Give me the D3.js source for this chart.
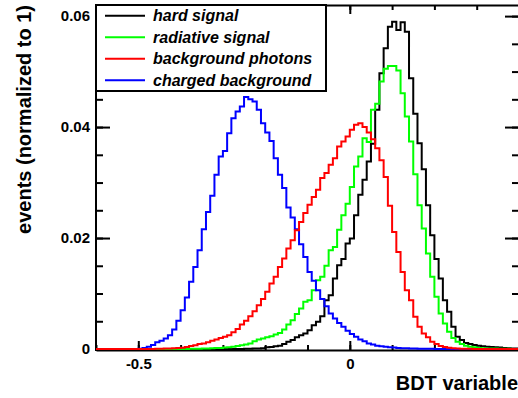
<!DOCTYPE html>
<html>
<head>
<meta charset="utf-8">
<script src="https://cdn.jsdelivr.net/npm/d3@7"></script>
<style>
  html, body { margin: 0; padding: 0; background: #ffffff; }
  svg { display: block; font-family: "Liberation Sans", Arial, Helvetica, sans-serif; font-weight: bold; }
</style>
</head>
<body>
<svg id="chart" width="518" height="398"></svg>
<script>
// Histogram binning: 100 equal bins on [-0.6, 0.4]
const binLow = -0.6;
const binHigh = 0.4;
const nBins = 100;

// Normalized bin contents, one entry per bin (left to right)
const hardSignal = [
  0, 0, 0, 0, 0, 0, 0, 0, 0, 0,
  0, 0, 0, 0, 0, 0, 0, 0, 0, 0,
  0, 0, 0, 0, 0, 0, 0, 0, 0, 0,
  0, 0, 0, 0, 0.00002, 0.00004, 0.00005, 0.00008, 0.0001, 0.00015,
  0.0003, 0.00036, 0.00048, 0.0006, 0.0009, 0.0013, 0.0016, 0.0021, 0.0025, 0.0028,
  0.0034, 0.0043, 0.0049, 0.0059, 0.0088, 0.0097, 0.0127, 0.0151, 0.0162, 0.0190,
  0.0199, 0.0241, 0.0278, 0.0305, 0.0338, 0.0370, 0.0431, 0.0497, 0.0542, 0.0581,
  0.0590, 0.0575, 0.0589, 0.0572, 0.0488, 0.0424, 0.0371, 0.0324, 0.0259, 0.0205,
  0.0162, 0.0127, 0.0088, 0.0067, 0.0040, 0.0022, 0.0016, 0.0011, 0.0009, 0.0007,
  0.0006, 0.0005, 0.0004, 0.00036, 0.0003, 0.00025, 0.0002, 0.00015, 0.0001, 0.0001
];

const radiativeSignal = [
  0, 0, 0, 0, 0, 0, 0, 0, 0, 0,
  0, 0, 0, 0, 0, 0, 0, 0, 0, 0,
  0.00001, 0.00002, 0.00003, 0.00004, 0.00005, 0.00007, 0.0001, 0.00013, 0.00017, 0.0002,
  0.00025, 0.0003, 0.0004, 0.00054, 0.00066, 0.0008, 0.0010, 0.0014, 0.0017, 0.0019,
  0.0021, 0.0023, 0.0026, 0.0029, 0.0035, 0.0044, 0.0052, 0.0063, 0.0073, 0.0085,
  0.0088, 0.0106, 0.0124, 0.0130, 0.0150, 0.0178, 0.0184, 0.0215, 0.0241, 0.0262,
  0.0292, 0.0329, 0.0347, 0.0380, 0.0373, 0.0431, 0.0442, 0.0482, 0.0505, 0.0510,
  0.0510, 0.0502, 0.0461, 0.0419, 0.0374, 0.0315, 0.0259, 0.0217, 0.0172, 0.0130,
  0.0094, 0.0064, 0.0046, 0.0031, 0.0020, 0.0013, 0.0009, 0.0006, 0.0004, 0.0003,
  0.0002, 0.00015, 0.0001, 0.0001, 0.00007, 0.00005, 0.00004, 0.00003, 0.00002, 0.00001
];

const backgroundPhotons = [
  0, 0, 0, 0, 0, 0, 0, 0, 0, 0,
  0, 0, 0.00001, 0.00002, 0.00003, 0.00005, 0.00007, 0.0001, 0.00013, 0.00018,
  0.00024, 0.00036, 0.00054, 0.00066, 0.0009, 0.0010, 0.0012, 0.0015, 0.0017, 0.0020,
  0.0022, 0.0025, 0.0030, 0.0036, 0.0044, 0.0051, 0.0059, 0.0068, 0.0079, 0.0090,
  0.0103, 0.0118, 0.0130, 0.0148, 0.0163, 0.0181, 0.0196, 0.0214, 0.0229, 0.0245,
  0.0260, 0.0274, 0.0287, 0.0308, 0.0317, 0.0332, 0.0344, 0.0365, 0.0374, 0.0383,
  0.0395, 0.0404, 0.0407, 0.0400, 0.0390, 0.0378, 0.0362, 0.0340, 0.0310, 0.0258,
  0.0211, 0.0175, 0.0139, 0.0106, 0.0088, 0.0058, 0.0040, 0.0028, 0.0021, 0.0013,
  0.0009, 0.00054, 0.00036, 0.00024, 0.00015, 0.0001, 0.00006, 0.00004, 0.00003, 0.00002,
  0.00001, 0.00001, 0, 0, 0, 0, 0, 0, 0, 0
];

const chargedBackground = [
  0, 0, 0, 0, 0, 0, 0, 0, 0, 0,
  0.00005, 0.0002, 0.0004, 0.0007, 0.0012, 0.0015, 0.0019, 0.0025, 0.0035, 0.0051,
  0.0070, 0.0093, 0.0121, 0.0148, 0.0178, 0.0216, 0.0247, 0.0276, 0.0314, 0.0347,
  0.0357, 0.0389, 0.0416, 0.0428, 0.0437, 0.0454, 0.0450, 0.0446, 0.0431, 0.0407,
  0.0390, 0.0375, 0.0344, 0.0314, 0.0290, 0.0255, 0.0237, 0.0216, 0.0189, 0.0166,
  0.0139, 0.0123, 0.0106, 0.0090, 0.0077, 0.0064, 0.0055, 0.0047, 0.0040, 0.0033,
  0.0027, 0.0022, 0.0017, 0.0014, 0.0010, 0.0008, 0.0006, 0.0005, 0.0004, 0.0003,
  0.00025, 0.0002, 0.00015, 0.00012, 0.0001, 0.00008, 0.00006, 0.00005, 0.00004, 0.00003,
  0.00002, 0.00001, 0, 0, 0, 0, 0, 0, 0, 0,
  0, 0, 0, 0, 0, 0, 0, 0, 0, 0
];

const seriesNames = ["hard signal", "radiative signal", "background photons", "charged background"];
const seriesColors = ["#000000", "#00ff00", "#ff0000", "#0000ff"];

// Axis ticks
const xMajorTicks = [-0.5, 0];
const xMinorTicks = [-0.6, -0.5, -0.4, -0.3, -0.2, -0.1, 0, 0.1, 0.2, 0.3, 0.4];
const yMajorTicks = [0, 0.02, 0.04, 0.06];
const yMinorTicks = [0, 0.005, 0.01, 0.015, 0.02, 0.025, 0.03, 0.035, 0.04, 0.045, 0.05, 0.055, 0.06];
const yMax = 0.062;

const xTitle = "BDT variable";
const yTitle = "events (normalized to 1)";

// Frame geometry
const frame = { left: 96, right: 519, top: 5, bottom: 349 };

const svg = d3.select("#chart");

const x = d3.scaleLinear().domain([binLow, binHigh]).range([frame.left, frame.right]);
const y = d3.scaleLinear().domain([0, yMax]).range([frame.bottom, frame.top]);

const fmtX = d => (d === 0 ? "0" : String(d));
const fmtY = d => (d === 0 ? "0" : d.toFixed(2));

// Ticks inward, black 2px; optionally keep the axis line
function styleAxis(g, keepDomain, fontSize) {
  g.attr("font-family", null).attr("font-size", fontSize || null);
  g.selectAll(".tick line").attr("stroke", "#000").attr("stroke-width", 2);
  if (keepDomain) {
    g.select(".domain").attr("stroke", "#000").attr("stroke-width", 2);
  } else {
    g.select(".domain").remove();
  }
  g.selectAll("text").attr("fill", "#000");
}

// Bottom axis
const bottomY = frame.bottom + 1;
svg.append("g")
  .attr("transform", `translate(0,${bottomY})`)
  .call(d3.axisBottom(x).tickValues(xMinorTicks).tickSizeInner(-5).tickSizeOuter(0).tickFormat(""))
  .call(g => styleAxis(g, true));
svg.append("g")
  .attr("transform", `translate(0,${bottomY})`)
  .call(d3.axisBottom(x).tickValues(xMajorTicks).tickSizeInner(-9).tickSizeOuter(0).tickPadding(8).tickFormat(fmtX))
  .call(g => styleAxis(g, false, 15));

// Top axis
svg.append("g")
  .attr("transform", `translate(0,${frame.top})`)
  .call(d3.axisTop(x).tickValues(xMinorTicks).tickSizeInner(-5).tickSizeOuter(0).tickFormat(""))
  .call(g => styleAxis(g, true));
svg.append("g")
  .attr("transform", `translate(0,${frame.top})`)
  .call(d3.axisTop(x).tickValues(xMajorTicks).tickSizeInner(-9).tickSizeOuter(0).tickFormat(""))
  .call(g => styleAxis(g, false));

// Left axis
svg.append("g")
  .attr("transform", `translate(${frame.left},0)`)
  .call(d3.axisLeft(y).tickValues(yMinorTicks).tickSizeInner(-7).tickSizeOuter(0).tickFormat(""))
  .call(g => styleAxis(g, false));
svg.append("g")
  .attr("transform", `translate(${frame.left},0)`)
  .call(d3.axisLeft(y).tickValues(yMajorTicks).tickSizeInner(-14).tickSizeOuter(0).tickPadding(6).tickFormat(fmtY))
  .call(g => styleAxis(g, false, 15));
svg.append("line")
  .attr("x1", frame.left).attr("x2", frame.left)
  .attr("y1", frame.top - 1).attr("y2", bottomY + 1)
  .attr("stroke", "#000").attr("stroke-width", 2);

// Right axis
svg.append("g")
  .attr("transform", `translate(${frame.right},0)`)
  .call(d3.axisRight(y).tickValues(yMinorTicks).tickSizeInner(-7).tickSizeOuter(0).tickFormat(""))
  .call(g => styleAxis(g, false));
svg.append("g")
  .attr("transform", `translate(${frame.right},0)`)
  .call(d3.axisRight(y).tickValues(yMajorTicks).tickSizeInner(-14).tickSizeOuter(0).tickFormat(""))
  .call(g => styleAxis(g, false));

// Step outlines of the four histograms
const binWidth = (binHigh - binLow) / nBins;
const stepLine = d3.line()
  .x(d => x(d.edge))
  .y(d => y(d.value))
  .curve(d3.curveStepAfter);

function histPoints(values) {
  const pts = values.map((v, i) => ({ edge: binLow + i * binWidth, value: v }));
  pts.push({ edge: binHigh, value: values[values.length - 1] });
  return pts;
}

const allSeries = [hardSignal, radiativeSignal, backgroundPhotons, chargedBackground];
// draw order: black, green, blue, red
[0, 1, 3, 2].forEach(i => {
  svg.append("path")
    .attr("d", stepLine(histPoints(allSeries[i])))
    .attr("fill", "none")
    .attr("stroke", seriesColors[i])
    .attr("stroke-width", 2)
    .attr("stroke-linejoin", "miter");
});

// Axis titles
svg.append("text")
  .attr("x", 518).attr("y", 390)
  .attr("text-anchor", "end")
  .attr("font-size", 20)
  .attr("fill", "#000")
  .text(xTitle);

svg.append("text")
  .attr("transform", `translate(31,${frame.top}) rotate(-90)`)
  .attr("text-anchor", "end")
  .attr("font-size", 20)
  .attr("fill", "#000")
  .text(yTitle);

// Legend
const legend = svg.append("g");
legend.append("rect")
  .attr("x", frame.left).attr("y", frame.top)
  .attr("width", 230).attr("height", 86)
  .attr("fill", "#ffffff")
  .attr("stroke", "#000").attr("stroke-width", 2);

const rowY = d3.scalePoint().domain(seriesNames).range([15.7, 80.3]);
seriesNames.forEach((name, i) => {
  legend.append("line")
    .attr("x1", 105).attr("x2", 145)
    .attr("y1", rowY(name)).attr("y2", rowY(name))
    .attr("stroke", seriesColors[i]).attr("stroke-width", 2);
  legend.append("text")
    .attr("x", 153).attr("y", rowY(name))
    .attr("dy", "0.35em")
    .attr("font-size", 16)
    .attr("font-style", "italic")
    .attr("fill", "#000")
    .text(name);
});
</script>
</body>
</html>
